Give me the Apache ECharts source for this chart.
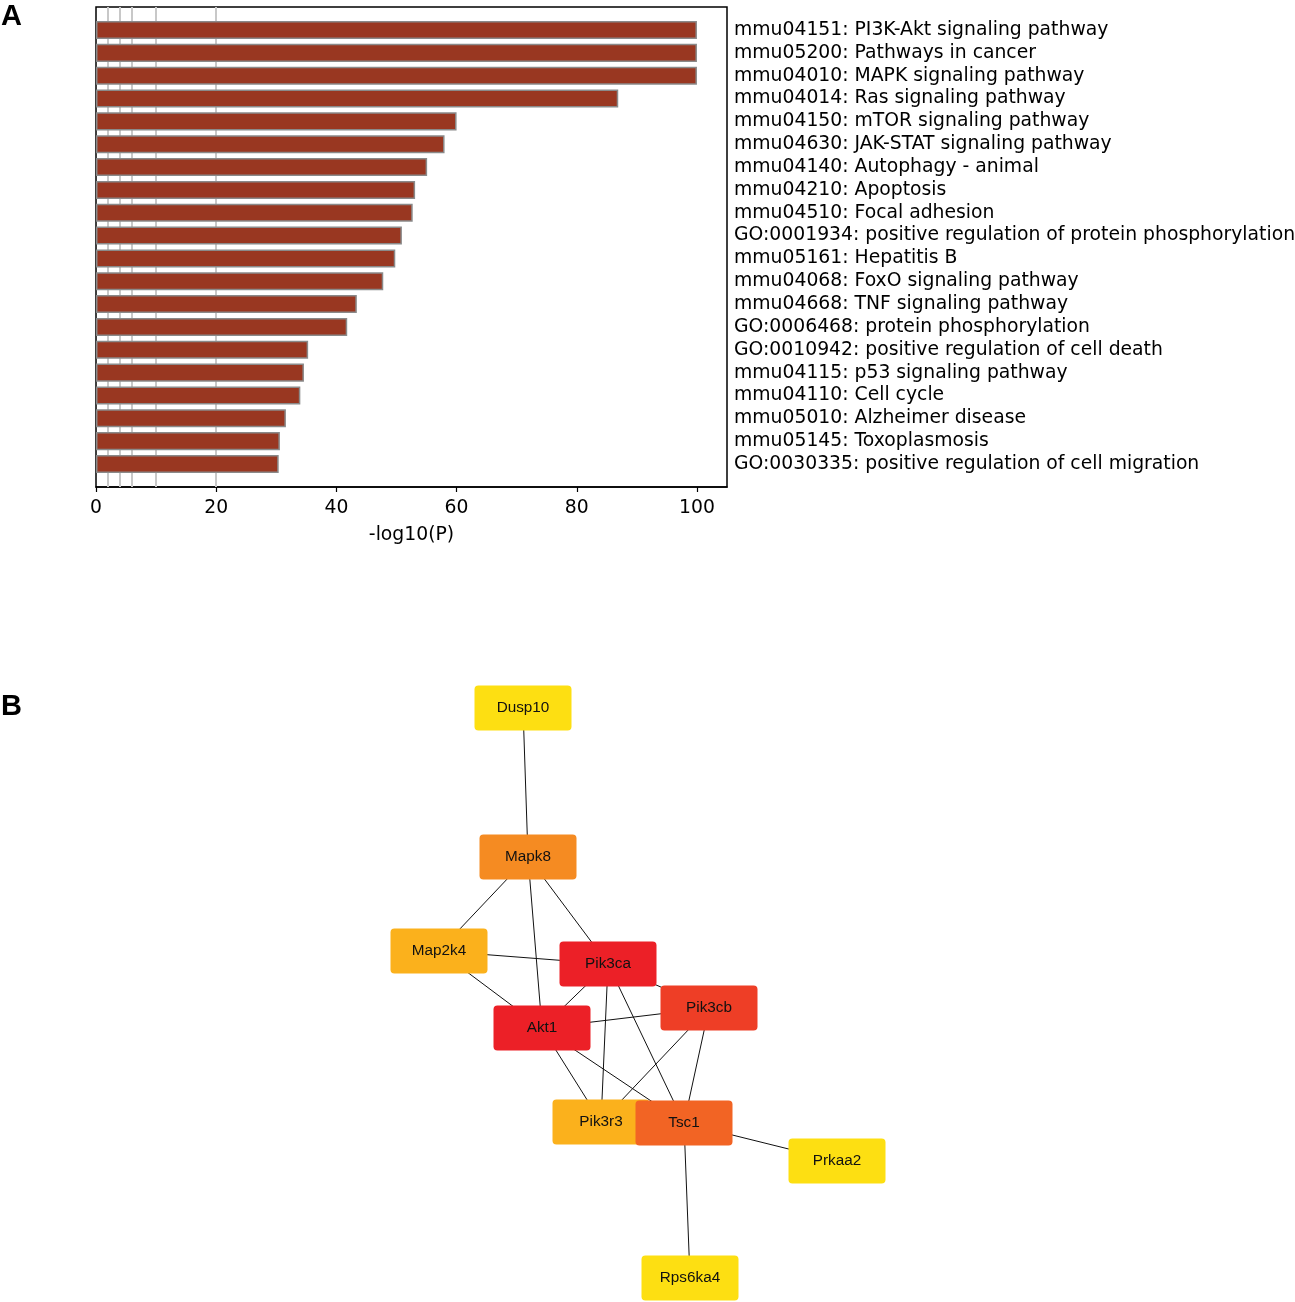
<!DOCTYPE html>
<html>
<head>
<meta charset="utf-8">
<script src="https://cdn.jsdelivr.net/npm/echarts@6/dist/echarts.min.js"></script>
<style>
  html, body { margin: 0; padding: 0; background: #fff; }
  #main { width: 1295px; height: 1302px; }
</style>
</head>
<body>
<div id="main"></div>
<script>
// panel A: enrichment terms, top to bottom
const terms = [
  'mmu04151: PI3K-Akt signaling pathway',
  'mmu05200: Pathways in cancer',
  'mmu04010: MAPK signaling pathway',
  'mmu04014: Ras signaling pathway',
  'mmu04150: mTOR signaling pathway',
  'mmu04630: JAK-STAT signaling pathway',
  'mmu04140: Autophagy - animal',
  'mmu04210: Apoptosis',
  'mmu04510: Focal adhesion',
  'GO:0001934: positive regulation of protein phosphorylation',
  'mmu05161: Hepatitis B',
  'mmu04068: FoxO signaling pathway',
  'mmu04668: TNF signaling pathway',
  'GO:0006468: protein phosphorylation',
  'GO:0010942: positive regulation of cell death',
  'mmu04115: p53 signaling pathway',
  'mmu04110: Cell cycle',
  'mmu05010: Alzheimer disease',
  'mmu05145: Toxoplasmosis',
  'GO:0030335: positive regulation of cell migration'
];
const logP = [100, 100, 100, 86.9, 60.0, 58.0, 55.1, 53.1, 52.7, 50.9,
              49.8, 47.8, 43.4, 41.8, 35.3, 34.6, 34.0, 31.6, 30.6, 30.4];
const refLines = [2, 4, 6, 10, 20];
const xTicks = [0, 20, 40, 60, 80, 100];

// panel B: network nodes (layout position) and edges
const nodeNames = ['Dusp10', 'Mapk8', 'Map2k4', 'Prkaa2', 'Rps6ka4', 'Pik3r3', 'Pik3cb', 'Pik3ca', 'Akt1', 'Tsc1'];
const nodePos = [[523, 708], [528, 857], [439, 951], [837, 1161], [690, 1278],
                 [601, 1122], [709, 1008], [608, 964], [542, 1028], [684, 1123]];
const nodeColors = ['#fddf12', '#f58b22', '#fbb11c', '#fddf12', '#fddf12',
                    '#fbb11c', '#ee3e26', '#ec2027', '#ec2027', '#f26424'];
const edges = [
  ['Dusp10', 'Mapk8'], ['Mapk8', 'Map2k4'], ['Mapk8', 'Akt1'], ['Mapk8', 'Pik3ca'],
  ['Map2k4', 'Pik3ca'], ['Map2k4', 'Akt1'], ['Pik3ca', 'Akt1'], ['Pik3ca', 'Pik3cb'],
  ['Pik3ca', 'Pik3r3'], ['Pik3ca', 'Tsc1'], ['Pik3cb', 'Akt1'], ['Pik3cb', 'Pik3r3'],
  ['Pik3cb', 'Tsc1'], ['Akt1', 'Pik3r3'], ['Akt1', 'Tsc1'], ['Pik3r3', 'Tsc1'],
  ['Tsc1', 'Prkaa2'], ['Tsc1', 'Rps6ka4']
];

const font = 'DejaVu Sans';
const roundBox = 'path://M4,0H93A4,4 0 0 1 97,4V41A4,4 0 0 1 93,45H4A4,4 0 0 1 0,41V4A4,4 0 0 1 4,0Z';

const chart = echarts.init(document.getElementById('main'), null, { renderer: 'canvas' });

const option = {
  backgroundColor: '#fff',
  animation: false,
  graphic: [
    { type: 'text', left: 1, top: 2, style: { text: 'A', font: 'bold 29px "Liberation Sans"', fill: '#000' } },
    { type: 'text', left: 1, top: 692, style: { text: 'B', font: 'bold 29px "Liberation Sans"', fill: '#000' } }
  ],
  grid: [
    { left: 96, top: 7, width: 631, height: 480, show: true, borderColor: '#000', borderWidth: 1.5,
      backgroundColor: 'transparent', outerBoundsMode: 'none' },
    { left: 96, top: 18.6, width: 631, height: 456.8, outerBoundsMode: 'none' },
    { left: 0, top: 600, width: 1295, height: 702, outerBoundsMode: 'none' }
  ],
  xAxis: [
    {
      gridIndex: 0, type: 'value', min: 0, max: 105, interval: 20,
      axisLine: { show: true, lineStyle: { color: '#000', width: 1.5 } },
      axisTick: { show: true, length: 5, lineStyle: { color: '#000', width: 1.2 },
        customValues: xTicks },
      axisLabel: { color: '#000', fontSize: 18.8, fontFamily: font, margin: 12,
        customValues: xTicks },
      splitLine: { show: false },
      name: '-log10(P)', nameLocation: 'middle', nameGap: 39,
      nameTextStyle: { color: '#000', fontSize: 18.8, fontFamily: font }
    },
    { gridIndex: 1, type: 'value', min: 0, max: 105, show: false },
    { gridIndex: 2, type: 'value', min: 0, max: 1295, show: false }
  ],
  yAxis: [
    { gridIndex: 0, type: 'value', min: 0, max: 1, show: false },
    {
      gridIndex: 1, type: 'category', data: terms, inverse: true, position: 'right',
      axisLine: { show: false }, axisTick: { show: false },
      axisLabel: { color: '#000', fontSize: 18.8, fontFamily: font, align: 'left', margin: 7,
        interval: 0, padding: [4, 0, 0, 0] }
    },
    { gridIndex: 2, type: 'value', min: 600, max: 1302, inverse: true, show: false }
  ],
  series: [
    {
      type: 'line', xAxisIndex: 0, yAxisIndex: 0, data: [], z: 1, silent: true,
      markLine: {
        z: 1, silent: true, symbol: 'none', label: { show: false },
        lineStyle: { color: '#c8c8c8', width: 2, type: 'solid' },
        data: refLines.map(v => ({ xAxis: v }))
      }
    },
    {
      type: 'bar', xAxisIndex: 1, yAxisIndex: 1, data: logP, barWidth: '79%', z: 10, zlevel: 1,
      itemStyle: { color: '#993721', borderColor: '#8a8a8a', borderWidth: 1.5 },
      emphasis: { disabled: true }, silent: true
    },
    {
      type: 'graph', coordinateSystem: 'cartesian2d', xAxisIndex: 2, yAxisIndex: 2,
      symbol: roundBox, symbolSize: [97, 45], silent: true,
      emphasis: { disabled: true },
      label: { show: true, position: 'inside', color: '#111', fontSize: 15.3, fontFamily: 'Liberation Sans', formatter: '{b}' },
      lineStyle: { color: '#111', width: 1, opacity: 1, curveness: 0 },
      data: nodeNames.map((n, i) => ({ name: n, value: nodePos[i], itemStyle: { color: nodeColors[i] } })),
      links: edges.map(e => ({ source: e[0], target: e[1] }))
    }
  ]
};

chart.setOption(option);
</script>
</body>
</html>
